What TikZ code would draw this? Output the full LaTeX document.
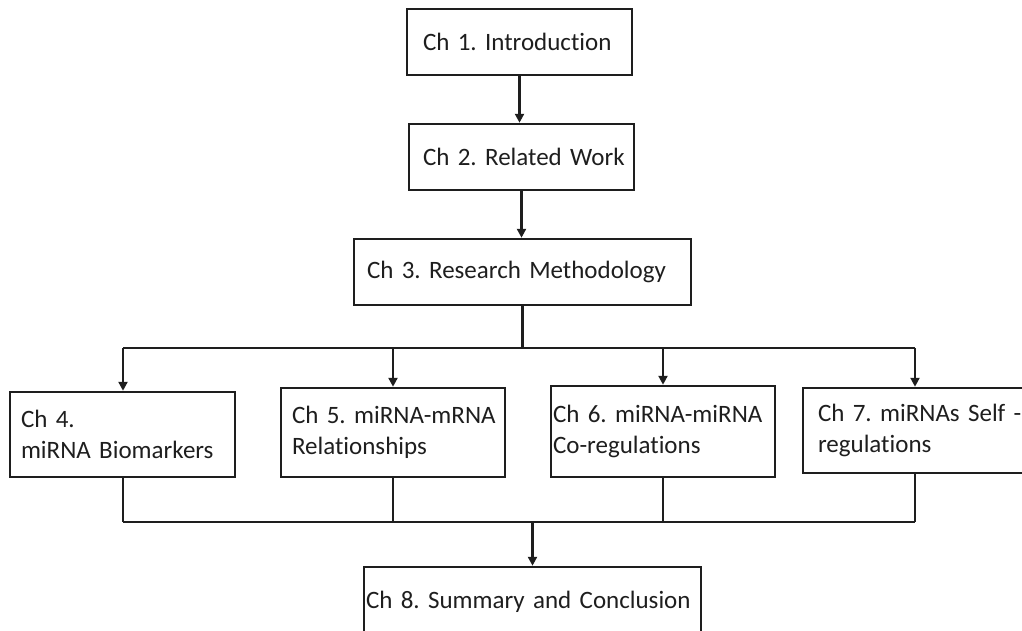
\documentclass[tikz,border=0pt]{standalone}
\usepackage{fontspec}
\setmainfont{Carlito}[Ligatures=NoCommon]
\usetikzlibrary{arrows.meta}
\definecolor{ink}{HTML}{1E1E1E}
\tikzset{
  box/.style={draw=ink, line width=2.5pt, rectangle, align=left, text=ink,
    inner ysep=0pt, font=\fontsize{25pt}{31pt}\selectfont\frenchspacing},
  wire/.style={draw=ink, line width=2.6pt},
  arr/.style={wire, -{Triangle[length=9pt,width=9pt]}}
}
\begin{document}
\begin{tikzpicture}[x=1pt,y=-1pt]
\useasboundingbox (0,0) rectangle (1022,630);
\clip (0,0) rectangle (1022,630);
% boxes
\node[box, minimum height=66pt, text width=193pt, inner xsep=16pt] (b1) at (519.5,42) {\mbox{Ch 1. Introduction}};
\node[box, minimum height=66pt, text width=197pt, inner xsep=14pt] (b2) at (521.5,157) {\mbox{Ch 2. Related Work}};
\node[box, minimum height=66pt, text width=311pt, inner xsep=13pt] (b3) at (522.5,272) {\mbox{Ch 3. Research Methodology}};
\node[box, minimum height=85pt, text width=203pt, inner xsep=11pt] (b4) at (122.5,434.5) {\mbox{Ch 4.}\\\mbox{miRNA Biomarkers}};
\node[box, minimum height=89pt, text width=202pt, inner xsep=11pt] (b5) at (393,432.5) {\mbox{Ch 5. miRNA-mRNA}\\\mbox{Relationships}};
\node[box, minimum height=91pt, text width=220pt, inner xsep=2pt] (b6) at (663,431.5) {\mbox{Ch 6. miRNA-miRNA}\\\mbox{Co-regulations}};
\node[box, minimum height=85pt, text width=197pt, inner xsep=15pt] (b7) at (916.5,430.5) {\mbox{Ch 7. miRNAs Self -}\\\mbox{regulations}};
\node[box, minimum height=69pt, text width=333pt, inner xsep=2pt] (b8) at (532.5,601.5) {\mbox{Ch 8. Summary and Conclusion}};
% bus coordinates
\coordinate (t4) at (123,348);
\coordinate (t5) at (393,348);
\coordinate (t6) at (663,348);
\coordinate (t7) at (915,348);
\coordinate (u4) at (123,522);
\coordinate (u5) at (393,522);
\coordinate (u6) at (663,522);
\coordinate (u7) at (915,522);
\coordinate (u8) at (532.5,522);
% connectors
\draw[arr] (b1.south) -- (b1.south |- b2.north);
\draw[arr] (b2.south) -- (b2.south |- b3.north);
\draw[wire] (b3.south) -- (b3.south |- t4);
\draw[wire] (t4) -- (t7);
\draw[arr] (t4) -- (t4 |- b4.north);
\draw[arr] (t5) -- (t5 |- b5.north);
\draw[arr] (t6) -- (t6 |- b6.north);
\draw[arr] (t7) -- (t7 |- b7.north);
\draw[wire] (u4 |- b4.south) -- (u4);
\draw[wire] (u5 |- b5.south) -- (u5);
\draw[wire] (u6 |- b6.south) -- (u6);
\draw[wire] (u7 |- b7.south) -- (u7);
\draw[wire] (u4) -- (u7);
\draw[arr] (u8) -- (b8.north);
\end{tikzpicture}
\end{document}
